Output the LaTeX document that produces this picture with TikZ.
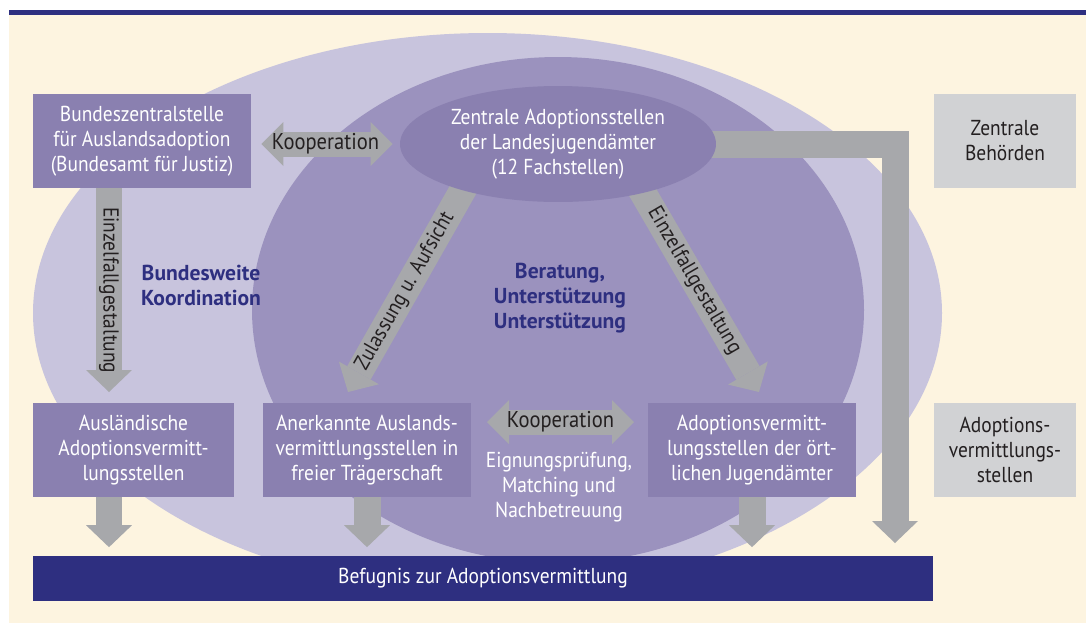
\documentclass[tikz,border=0pt]{standalone}
\usepackage{fontspec}
\setmainfont[FakeStretch=0.9, BoldFeatures={FakeStretch=1.0}]{PT Sans}
\usetikzlibrary{arrows.meta}
\usetikzlibrary{shapes.geometric}
\usetikzlibrary{positioning}

\definecolor{cream}{HTML}{FDF4E0}
\definecolor{navy}{HTML}{2E2F80}
\definecolor{lightlilac}{HTML}{C8C4DD}
\definecolor{midlilac}{HTML}{9B92BE}
\definecolor{boxlilac}{HTML}{8A80B0}
\definecolor{arrowgray}{HTML}{A7A8AB}
\definecolor{boxgray}{HTML}{D1D2D4}
\definecolor{darktext}{HTML}{231F20}

\pgfdeclarelayer{bg}
\pgfdeclarelayer{arrowlayer}
\pgfsetlayers{bg,arrowlayer,main}

\begin{document}
\begin{tikzpicture}[x=0.02cm, y=-0.02cm, font=\fontsize{12.3}{14.2}\selectfont,
    fat/.style={draw=arrowgray, line width=0.54cm,
      -{Triangle[length=0.44cm, width=0.92cm, line width=0pt]}},
    koop/.style={draw=arrowgray, line width=0.5cm, text=darktext,
      font=\fontsize{13}{14.2}\selectfont,
      {Triangle[length=0.44cm, width=0.88cm, line width=0pt]}-{Triangle[length=0.44cm, width=0.88cm, line width=0pt]}},
    lilacbox/.style={rectangle, fill=boxlilac, text=white, align=center,
      inner sep=0pt, minimum height=1.88cm},
    graybox/.style={lilacbox, fill=boxgray, text=darktext, minimum width=2.84cm},
    bluelabel/.style={align=center, text=navy, font=\fontsize{12.3}{14.2}\selectfont\bfseries}]
  \useasboundingbox (0,0) rectangle (1086,623);

  % Make the background and the two big ellipses
  \begin{pgfonlayer}{bg}
    \fill[white] (0,0) rectangle (1086,623);
    \fill[cream] (9,15) rectangle (1086,623);
    \fill[navy] (9,10) rectangle (1086,15);
    \fill[lightlilac] (487.5,313) ellipse [x radius=454.5, y radius=280];
    \fill[midlilac] (558,310) ellipse [x radius=306, y radius=253];
  \end{pgfonlayer}

  % The offices
  \node[lilacbox, minimum width=4.36cm] (bund) at (142,141)
    {Bundeszentralstelle\\für Auslandsadoption\\(Bundesamt für Justiz)};
  \node[ellipse, fill=boxlilac, text=white, align=center, inner sep=0pt,
    minimum width=6.32cm, minimum height=2.32cm] (zentral) at (558,144)
    {Zentrale Adoptionsstellen\\der Landesjugendämter\\(12 Fachstellen)};
  \node[lilacbox, minimum width=4.02cm] (ausl) at (133.5,450)
    {Ausländische\\Adoptionsvermitt-\\lungsstellen};
  \node[lilacbox, minimum width=4.16cm] (anerk) at (367,450)
    {Anerkannte Auslands-\\vermittlungsstellen in\\freier Trägerschaft};
  \node[lilacbox, minimum width=4.16cm] (adopt) at (752,450)
    {Adoptionsvermitt-\\lungsstellen der ört-\\lichen Jugendämter};
  \node[rectangle, fill=navy, text=white, inner sep=0pt,
    minimum width=18cm, minimum height=0.9cm] (bar) at (483,578)
    {Befugnis zur Adoptionsvermittlung};

  % Legend on the right
  \node[graybox] (behoerden) at (1005,141) {Zentrale\\Behörden};
  \node[graybox] (stellen) at (1005,450) {Adoptions-\\vermittlungs-\\stellen};

  % Free labels
  \node[bluelabel] (koord) at (201,285) {Bundesweite\\Koordination};
  \node[bluelabel] (beratung) at (560,298) {Beratung,\\Unterstützung\\Unterstützung};
  \node[align=center, text=white] (eignung) at (559,487)
    {Eignungsprüfung,\\Matching und\\Nachbetreuung};

  % Where the arrows end
  \coordinate (tipV) at (109,392);
  \coordinate (tipL) at (348,392);
  \coordinate (tipR) at (759,392);
  \coordinate (tipB) at (895,543);
  \coordinate (kl) at (487,422);
  \coordinate (kr) at (634,422);

  \begin{pgfonlayer}{arrowlayer}
    \draw[fat] (bund.south -| tipV) -- (tipV)
      node[midway, sloped, text=darktext] {Einzelfallgestaltung};
    \draw[fat, shorten <=-0.4cm] (zentral.206.6) -- (tipL)
      node[pos=0.5, sloped, text=darktext] {Zulassung u. Aufsicht};
    \draw[fat, shorten <=-0.4cm] (zentral.330.6) -- (tipR)
      node[pos=0.44, sloped, text=darktext] {Einzelfallgestaltung};
    \draw[fat] (zentral.center) -| (tipB);

    % Kooperation
    \draw[koop, shorten <=0.2cm, shorten >=0.14cm] (bund.east |- zentral.west) -- (zentral.west)
      node[midway] {Kooperation};
    \draw[koop] (kl) -- (kr) node[midway] {Kooperation};

    % down to the bar
    \draw[fat, shorten >=0.16cm] (ausl.south -| tipV) -- (bar.north -| tipV);
    \foreach \b in {anerk, adopt}{
      \draw[fat, shorten >=0.16cm] (\b.south) -- (\b.south |- bar.north);
    }
  \end{pgfonlayer}
\end{tikzpicture}
\end{document}
